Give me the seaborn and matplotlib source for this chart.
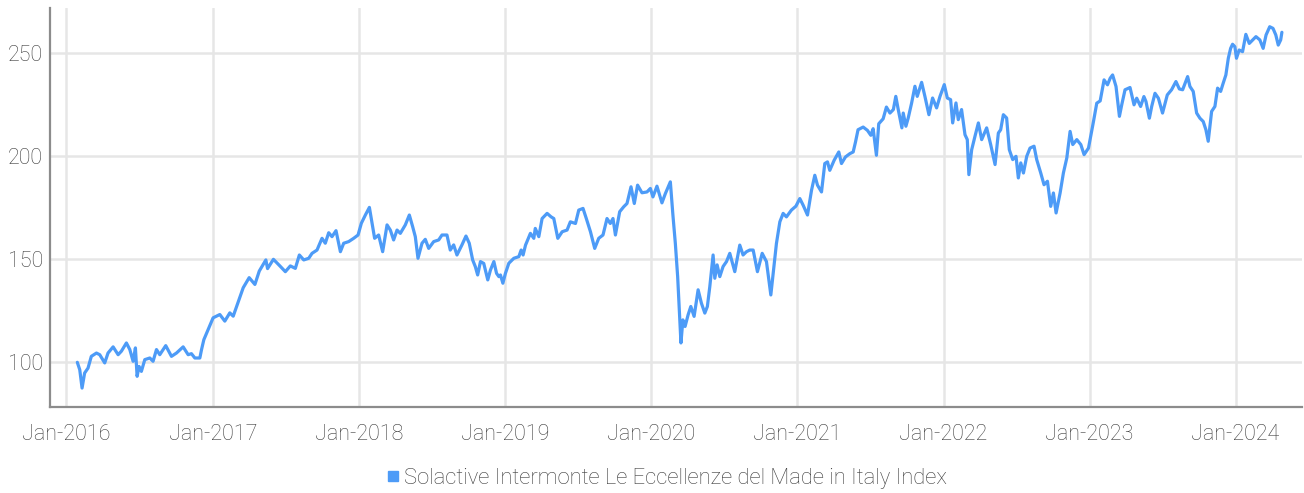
import matplotlib
matplotlib.use('Agg')
import matplotlib.pyplot as plt
import matplotlib.dates as mdates
from matplotlib.lines import Line2D
import numpy as np
import pandas as pd
import seaborn as sns

# index level; x is months since Jan-2016
months = [
    # 2016 - mid 2017
    0.9, 1.1, 1.29, 1.5, 1.78, 2.05, 2.47, 2.74, 3.15, 3.42, 3.84, 4.25, 4.52,
    4.93, 5.21, 5.48, 5.67, 5.81, 5.97, 6.16, 6.44, 6.85, 7.12, 7.4, 7.67, 8.16,
    8.63, 9.04, 9.59, 10.0, 10.27, 10.55, 10.96, 11.1, 11.29, 11.64, 12.05,
    12.6, 13.01, 13.42, 13.7, 14.03, 14.52, 15.01, 15.48, 15.84, 16.38, 16.52,
    17.0, 17.53,
    # mid 2017 - late 2018
    17.98, 18.39, 18.8, 19.13, 19.49, 19.9, 20.17, 20.58, 20.99, 21.26, 21.54,
    21.81, 22.14, 22.5, 22.77, 23.18, 23.59, 23.95, 24.22, 24.55, 24.88, 25.1,
    25.31, 25.64, 25.97, 26.33, 26.6, 26.87, 27.15, 27.42, 27.83, 28.16, 28.43,
    28.65, 28.87, 29.2, 29.47, 29.75, 30.16, 30.57, 30.84, 31.25, 31.52, 31.8,
    32.07, 32.48, 32.81, 33.08, 33.36, 33.58, 33.77,
    # late 2018 - spring 2020
    34.0, 34.27, 34.6, 34.82, 35.1, 35.32, 35.51, 35.64, 35.84, 36.05, 36.33,
    36.74, 37.15, 37.34, 37.5, 37.7, 38.1, 38.38, 38.5, 38.79, 39.06, 39.47,
    39.8, 40.02, 40.35, 40.71, 41.11, 41.38, 41.8, 42.07, 42.42, 42.69, 43.03,
    43.38, 43.71, 44.06, 44.39, 44.66, 44.88, 45.08, 45.43, 45.76, 46.03, 46.36,
    46.63, 46.9, 47.26, 47.67, 47.95, 48.16, 48.49, 48.9, 49.18, 49.59, 49.8,
    50.0, 50.19, 50.35, 50.46, 50.62, 50.8,
    # spring 2020 - summer 2021
    51.05, 51.27, 51.54, 51.87, 52.14, 52.42, 52.63, 52.83, 53.1, 53.24, 53.43,
    53.65, 53.92, 54.2, 54.47, 54.88, 55.29, 55.56, 55.84, 56.11, 56.39, 56.74,
    57.13, 57.48, 57.84, 58.03, 58.3, 58.58, 58.85, 59.12, 59.53, 59.9, 60.22,
    60.49, 60.85, 61.18, 61.45, 61.67, 62.0, 62.27, 62.49, 62.68, 63.04, 63.42,
    63.64, 63.97, 64.33, 64.6, 64.79, 65.0, 65.42, 65.77, 66.05, 66.24, 66.51,
    66.7, 67.06, 67.33,
    # summer 2021 - end 2022
    67.62, 67.9, 68.1, 68.3, 68.6, 68.71, 68.93, 69.12, 69.4, 69.67, 69.86,
    70.22, 70.49, 70.82, 71.12, 71.45, 71.73, 72.08, 72.33, 72.6, 72.77, 73.04,
    73.23, 73.5, 73.78, 73.97, 74.1, 74.33, 74.6, 74.88, 75.15, 75.56, 75.89,
    76.25, 76.52, 76.71, 76.93, 77.2, 77.42, 77.7, 77.97, 78.16, 78.36, 78.58,
    78.85, 79.12, 79.45, 79.67, 80.0, 80.27, 80.55, 80.82, 81.04, 81.26, 81.59,
    81.86, 82.14, 82.41, 82.63, 82.96, 83.29, 83.56, 83.92,
    # 2023 - spring 2024
    84.05, 84.33, 84.6, 84.88, 85.2, 85.48, 85.7, 85.9, 86.18, 86.46, 86.65,
    86.92, 87.33, 87.66, 87.88, 88.2, 88.47, 88.64, 88.92, 89.11, 89.38, 89.66,
    90.0, 90.39, 90.74, 91.1, 91.38, 91.65, 92.06, 92.25, 92.52, 92.8, 93.07,
    93.34, 93.56, 93.75, 94.03, 94.3, 94.52, 94.77, 94.98, 95.2, 95.4, 95.59,
    95.75, 95.94, 96.07, 96.29, 96.57, 96.84, 97.12, 97.4, 97.67, 97.99, 98.26,
    98.5, 98.8, 99.07, 99.3, 99.5, 99.7, 99.8,
]

index_level = [
    100.0, 96.4, 87.5, 94.8, 97.2, 102.9, 104.5, 103.7, 99.7, 104.5, 107.5,
    103.7, 105.4, 109.4, 106.2, 100.5, 107.0, 93.2, 98.0, 95.6, 101.3, 102.1,
    100.5, 106.2, 103.7, 108.1, 102.9, 104.5, 107.5, 103.7, 104.2, 102.1, 102.1,
    106.2, 111.0, 115.9, 121.6, 123.2, 120.0, 124.0, 122.4, 128.0, 136.2, 141.1,
    137.8, 144.3, 149.7, 145.5, 150.0, 146.8,
    144.0, 146.8, 145.6, 152.1, 149.7, 150.5, 152.9, 154.5, 160.2, 157.8, 162.9,
    161.0, 163.9, 153.7, 157.8, 158.6, 160.2, 161.8, 167.5, 171.5, 175.2, 167.5,
    160.2, 161.8, 153.7, 166.7, 164.2, 159.4, 164.2, 162.6, 166.7, 171.5, 165.9,
    161.0, 150.5, 157.8, 159.7, 155.3, 158.6, 159.4, 161.8, 161.8, 154.5, 157.0,
    152.1, 157.0, 161.3, 157.8, 149.7, 146.4, 142.4,
    148.9, 148.0, 140.0, 144.8, 148.9, 143.2, 141.6, 142.4, 138.4, 143.2, 148.1,
    150.5, 151.3, 154.5, 152.1, 156.9, 162.6, 160.2, 165.0, 161.0, 169.8, 172.3,
    170.6, 169.8, 160.2, 163.4, 164.2, 168.2, 167.4, 173.9, 174.7, 169.8, 163.4,
    155.3, 160.2, 161.8, 169.8, 167.4, 169.8, 161.8, 173.1, 175.5, 177.1, 185.2,
    177.1, 186.0, 182.3, 182.7, 184.4, 180.3, 185.5, 177.4, 181.9, 187.6, 171.5,
    157.7, 141.6, 122.3, 109.4, 120.6, 117.4,
    123.1, 127.1, 122.3, 135.2, 128.7, 123.9, 127.1, 136.8, 152.1, 140.8, 147.3,
    141.6, 146.5, 148.9, 152.9, 144.0, 156.9, 152.1, 153.7, 154.5, 154.5, 144.0,
    152.9, 148.9, 132.7, 143.2, 157.7, 168.2, 172.3, 170.6, 173.9, 175.8, 179.5,
    176.3, 171.5, 183.5, 190.8, 186.0, 182.7, 196.5, 197.3, 193.2, 198.1, 202.1,
    196.5, 199.7, 201.3, 202.1, 206.9, 212.9, 214.2, 212.6, 210.2, 213.4, 200.5,
    215.8, 218.2, 223.9,
    221.0, 222.7, 229.1, 222.7, 213.8, 221.0, 214.6, 218.6, 225.9, 234.0, 229.1,
    235.9, 229.1, 220.2, 228.3, 223.5, 229.1, 234.8, 228.3, 227.5, 216.2, 225.9,
    217.8, 222.7, 210.5, 208.1, 191.1, 203.2, 209.7, 216.2, 208.1, 213.8, 205.7,
    196.0, 211.3, 212.9, 220.2, 218.6, 203.2, 198.4, 200.0, 189.5, 196.8, 191.9,
    200.0, 204.0, 204.9, 198.4, 191.9, 186.2, 187.9, 175.7, 182.2, 172.5, 182.2,
    191.9, 199.2, 212.1, 205.7, 208.1, 205.7, 200.8, 204.0,
    208.1, 216.9, 225.8, 226.9, 237.1, 234.7, 237.9, 239.5, 233.9, 219.4, 225.0,
    232.3, 233.4, 225.0, 228.2, 224.2, 229.0, 226.6, 218.5, 224.2, 230.6, 228.2,
    221.0, 229.8, 232.3, 236.3, 232.7, 232.3, 238.7, 233.9, 231.5, 221.0, 218.5,
    216.9, 212.9, 207.3, 221.8, 224.2, 233.1, 231.5, 235.5, 239.5, 247.6, 252.4,
    254.4, 253.2, 247.6, 251.6, 250.8, 259.2, 254.8, 256.5, 258.1, 256.5, 252.4,
    258.9, 262.9, 262.1, 258.9, 254.0, 256.5, 260.2,
]

y_ticks = [100, 150, 200, 250]
series_name = 'Solactive Intermonte Le Eccellenze del Made in Italy Index'

df = pd.DataFrame({'months': months, 'level': index_level})
df['date'] = pd.Timestamp('2016-01-01') + pd.to_timedelta(df['months'] * 30.4375, unit='D')

sns.set_style('white')
plt.rcParams['font.family'] = ['Roboto', 'DejaVu Sans']
plt.rcParams['font.weight'] = 'light'

line_color = '#4d9bf7'
text_color = '#3c3c3c'

fig = plt.figure(figsize=(13.04, 4.93), dpi=100)
ax = fig.add_axes([0.0383, 0.1744, 0.9602, 0.8094])

sns.lineplot(data=df, x='date', y='level', ax=ax, color=line_color,
             linewidth=2.3, zorder=3)

ax.set_xlim(pd.Timestamp('2015-11-21'), pd.Timestamp('2024-06-15'))
ax.set_ylim(78.3, 272)
ax.set_yticks(y_ticks)
ax.xaxis.set_major_locator(mdates.YearLocator())
ax.xaxis.set_major_formatter(mdates.DateFormatter('%b-%Y'))

ax.grid(True, color='#e6e6e6', linewidth=1.8, zorder=0)
ax.set_axisbelow(True)
ax.set_xlabel('')
ax.set_ylabel('')

for side in ['top', 'right']:
    ax.spines[side].set_visible(False)
for side in ['left', 'bottom']:
    ax.spines[side].set_color('#8c8c8c')
    ax.spines[side].set_linewidth(1.6)

ax.tick_params(axis='both', length=0, labelsize=15.5, labelcolor=text_color)
ax.tick_params(axis='x', pad=12)
ax.tick_params(axis='y', pad=5)

handle = Line2D([], [], marker='s', linestyle='none', color=line_color, markersize=7)
fig.legend([handle], [series_name], loc='center', bbox_to_anchor=(0.5104, 0.03),
           frameon=False, fontsize=15.8, labelcolor=text_color, handletextpad=0.1,
           handlelength=0.8, borderaxespad=0)

fig.savefig('out.png', dpi=100)
